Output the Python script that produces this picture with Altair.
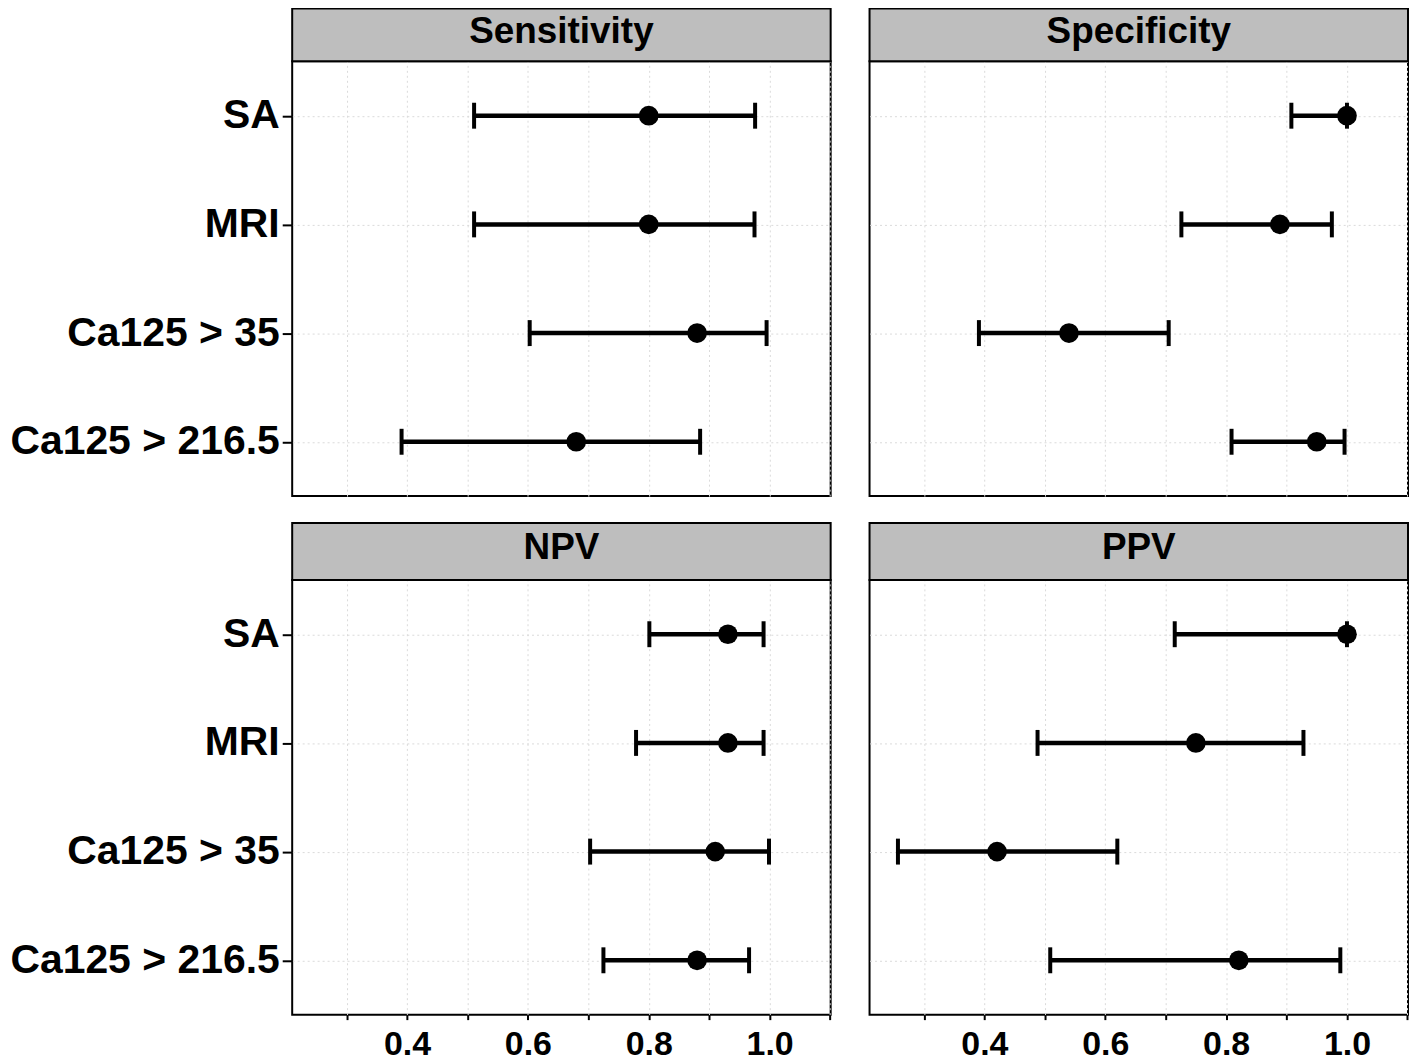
import altair as alt
import pandas as pd

cats = ["SA", "MRI", "Ca125 > 35", "Ca125 > 216.5"]
metrics = ["Sensitivity", "Specificity", "NPV", "PPV"]

sens_est = [0.80, 0.80, 0.88, 0.68]
sens_lo = [0.511, 0.511, 0.603, 0.391]
sens_hi = [0.976, 0.975, 0.995, 0.885]

spec_est = [1.0, 0.889, 0.540, 0.950]
spec_lo = [0.908, 0.726, 0.391, 0.809]
spec_hi = [1.0, 0.975, 0.705, 0.996]

npv_est = [0.931, 0.931, 0.910, 0.880]
npv_lo = [0.801, 0.779, 0.703, 0.725]
npv_hi = [0.990, 0.990, 0.999, 0.966]

ppv_est = [1.0, 0.750, 0.421, 0.821]
ppv_lo = [0.715, 0.488, 0.257, 0.509]
ppv_hi = [1.0, 0.928, 0.620, 0.989]

x_ticks = [0.3, 0.4, 0.5, 0.6, 0.7, 0.8, 0.9, 1.0, 1.1]
x_labels = ["0.4", "0.6", "0.8", "1.0"]

FONT = "Liberation Sans"
W = 540
H = 436


def panel(title, est, lo, hi, left, bottom, strip_h, strip_text_y):
    df = pd.DataFrame({"cat": cats, "est": est, "lo": lo, "hi": hi})
    xaxis = alt.Axis(
        values=x_ticks,
        labelExpr="indexof(" + str(x_labels) + ", format(datum.value, '.1f')) >= 0 ? format(datum.value, '.1f') : ''",
        labels=bottom, ticks=bottom, tickSize=5, tickWidth=2, tickColor="black",
        domain=False, grid=True, gridColor="#dadada", gridDash=[2, 3], gridWidth=1,
        labelFont=FONT, labelFontSize=34, labelFontWeight="bold", labelColor="black",
        labelPadding=8, labelLimit=0, title=None,
    )
    if left:
        yaxis = alt.Axis(
            labels=True, ticks=True, tickSize=10, tickWidth=2, tickColor="black",
            domain=False, grid=True, gridColor="#dadada", gridDash=[2, 3], gridWidth=1,
            labelFont=FONT, labelFontSize=41, labelFontWeight="bold", labelColor="black",
            labelPadding=3, labelLimit=0, minExtent=284, maxExtent=284, title=None,
        )
    else:
        yaxis = alt.Axis(
            labels=False, ticks=False, domain=False, grid=True, gridColor="#dadada",
            gridDash=[2, 3], gridWidth=1, minExtent=0, maxExtent=0, title=None,
        )
    xs = alt.Scale(domain=[0.21, 1.101], nice=False, zero=False)
    ys = alt.Scale(type="point", padding=0.5, domain=cats)

    def X(f):
        return alt.X(f + ":Q", scale=xs, axis=xaxis)

    Y = alt.Y("cat:N", sort=cats, scale=ys, axis=yaxis)

    base = alt.Chart(df)
    rule = base.mark_rule(color="black", strokeWidth=4.5).encode(x=X("lo"), x2="hi:Q", y=Y)
    tlo = base.mark_tick(color="black", opacity=1, orient="vertical", size=26, thickness=4).encode(x=X("lo"), y=Y)
    thi = base.mark_tick(color="black", opacity=1, orient="vertical", size=26, thickness=4).encode(x=X("hi"), y=Y)
    pt = base.mark_circle(color="black", opacity=1, size=390).encode(x=X("est"), y=Y)

    sdf = pd.DataFrame({"t": [title]})
    rect = alt.Chart(sdf).mark_rect(fill="#bebebe", stroke="black", strokeWidth=2).encode(
        x=alt.value(0), x2=alt.value(W), y=alt.value(-strip_h), y2=alt.value(0)
    )
    txt = alt.Chart(sdf).mark_text(
        font=FONT, fontSize=37, fontWeight="bold", color="black", baseline="middle", align="center"
    ).encode(x=alt.value(W / 2), y=alt.value(strip_text_y), text="t:N")

    return alt.layer(rect, txt, rule, tlo, thi, pt).properties(width=W, height=H)


p1 = panel("Sensitivity", sens_est, sens_lo, sens_hi, True, False, 53, -29)
p2 = panel("Specificity", spec_est, spec_lo, spec_hi, False, False, 53, -29)
p3 = panel("NPV", npv_est, npv_lo, npv_hi, True, True, 57, -32)
p4 = panel("PPV", ppv_est, ppv_lo, ppv_hi, False, True, 57, -32)

chart = alt.vconcat(
    alt.hconcat(p1, p2, spacing=35),
    alt.hconcat(p3, p4, spacing=35),
    spacing=24,
).configure(
    padding={"left": 0, "top": -3, "right": 0, "bottom": 3}, background="white"
).configure_view(stroke="black", strokeWidth=2)

chart.save("out.html", embed_options={"renderer": "svg", "actions": False})
